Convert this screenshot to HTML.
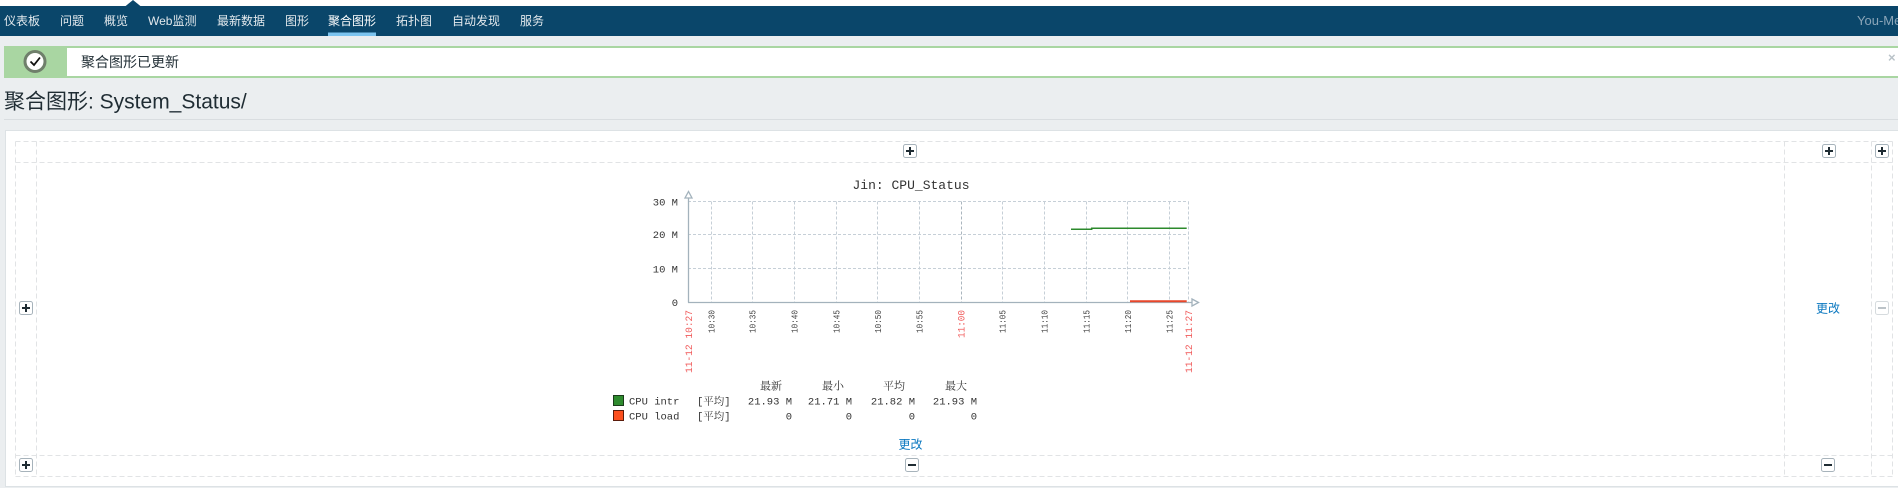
<!DOCTYPE html>
<html><head><meta charset="utf-8">
<style>
html,body{margin:0;padding:0;}
body{width:1898px;height:488px;overflow:hidden;background:#ebeef0;position:relative;font-family:"Liberation Sans","Noto Sans CJK SC",sans-serif;}
.abs{position:absolute;}
</style></head>
<body>
<div class="abs" style="left:0;top:0;width:1898px;height:6px;background:#fff;"></div>
<div class="abs" style="left:0;top:6px;width:1898px;height:30px;background:#0a466a;"></div>
<svg class="abs" style="left:0;top:0" width="1898" height="488" viewBox="0 0 1898 488" xmlns="http://www.w3.org/2000/svg">
  <!-- nav pointer -->
  <polygon points="133,0 125,6.5 141,6.5" fill="#0a466a"/>
  <!-- nav items -->
  <g font-family="Liberation Sans, Noto Sans CJK SC, sans-serif" font-size="12" fill="#e3e9ed">
    <text x="4" y="25">仪表板</text>
    <text x="60" y="25">问题</text>
    <text x="104" y="25">概览</text>
    <text x="148" y="25">Web监测</text>
    <text x="217" y="25">最新数据</text>
    <text x="285" y="25">图形</text>
    <text x="328" y="25" fill="#ffffff">聚合图形</text>
    <text x="396" y="25">拓扑图</text>
    <text x="452" y="25">自动发现</text>
    <text x="520" y="25">服务</text>
    <text x="1857" y="25" fill="#8ba5b8" font-size="13">You-Me</text>
  </g>
  <rect x="328" y="32.5" width="48" height="3.5" fill="#7cc4ef"/>

  <!-- message box -->
  <rect x="5" y="47" width="1900" height="30" fill="#fff" stroke="#a9d6a2" stroke-width="2"/>
  <rect x="4" y="46" width="63" height="32" fill="#a9d6a2"/>
  <circle cx="35" cy="61.5" r="10" fill="#fff" stroke="#6f7f6b" stroke-width="3"/>
  <path d="M30.5,61.5 L34,65 L40,57.5" fill="none" stroke="#111" stroke-width="1.8"/>
  <text x="81" y="67" font-family="Liberation Sans, Noto Sans CJK SC, sans-serif" font-size="14" fill="#1f2c33">聚合图形已更新</text>
  <text x="1888" y="62" font-family="Liberation Sans, sans-serif" font-size="13" fill="#b9c2c8" font-weight="bold">×</text>

  <!-- title -->
  <text x="4" y="108.5" font-family="Liberation Sans, Noto Sans CJK SC, sans-serif" font-size="21" fill="#1f2c33">聚合图形: System_Status/</text>
  <line x1="4" y1="119.5" x2="1898" y2="119.5" stroke="#d9dde0" stroke-width="1"/>

  <!-- panel -->
  <rect x="5.5" y="130.5" width="1900" height="356" fill="#fff" stroke="#dde2e5" stroke-width="1"/>

  <!-- layout dashed grid -->
  <g stroke="#e1e3e5" stroke-width="1" stroke-dasharray="5 3" fill="none">
    <line x1="15.5" y1="141.5" x2="1892.5" y2="141.5"/>
    <line x1="15.5" y1="162.5" x2="1892.5" y2="162.5"/>
    <line x1="15.5" y1="455.5" x2="1892.5" y2="455.5"/>
    <line x1="15.5" y1="476.5" x2="1892.5" y2="476.5"/>
    <line x1="15.5" y1="141.5" x2="15.5" y2="476.5"/>
    <line x1="36.5" y1="141.5" x2="36.5" y2="476.5"/>
    <line x1="1784.5" y1="141.5" x2="1784.5" y2="476.5"/>
    <line x1="1871.5" y1="141.5" x2="1871.5" y2="476.5"/>
    <line x1="1892.5" y1="141.5" x2="1892.5" y2="476.5"/>
  </g>

  <!-- buttons -->
  <g>
    <!-- plus buttons -->
    <g stroke="#a7b3bb" fill="#fff"><rect x="903.5" y="144.5" width="13" height="13" rx="2"/><rect x="1822.5" y="144.5" width="13" height="13" rx="2"/><rect x="1875.5" y="144.5" width="13" height="13" rx="2"/><rect x="19.5" y="301.5" width="13" height="13" rx="2"/><rect x="19.5" y="458.5" width="13" height="13" rx="2"/><rect x="905.5" y="458.5" width="13" height="13" rx="2"/><rect x="1821.5" y="458.5" width="13" height="13" rx="2"/></g>
    <rect x="1875.5" y="301.5" width="13" height="13" rx="2" fill="#fff" stroke="#d6dbde"/>
    <g stroke="#1f2c33" stroke-width="2">
      <line x1="906" y1="151" x2="914" y2="151"/><line x1="910" y1="147" x2="910" y2="155"/>
      <line x1="1825" y1="151" x2="1833" y2="151"/><line x1="1829" y1="147" x2="1829" y2="155"/>
      <line x1="1878" y1="151" x2="1886" y2="151"/><line x1="1882" y1="147" x2="1882" y2="155"/>
      <line x1="22" y1="308" x2="30" y2="308"/><line x1="26" y1="304" x2="26" y2="312"/>
      <line x1="22" y1="465" x2="30" y2="465"/><line x1="26" y1="461" x2="26" y2="469"/>
      <line x1="908" y1="465" x2="916" y2="465"/>
      <line x1="1824" y1="465" x2="1832" y2="465"/>
    </g>
    <line x1="1878" y1="308" x2="1886" y2="308" stroke="#bcc3c8" stroke-width="2"/>
  </g>
  <text x="1828" y="312.5" text-anchor="middle" font-family="Liberation Sans, Noto Sans CJK SC, sans-serif" font-size="12" fill="#0b78c0">更改</text>
  <text x="910.5" y="448.5" text-anchor="middle" font-family="Liberation Sans, Noto Sans CJK SC, sans-serif" font-size="12" fill="#0b78c0">更改</text>

  <!-- chart -->
  <text x="911" y="189" text-anchor="middle" font-family="Liberation Mono, monospace" font-size="13" fill="#333">Jin: CPU_Status</text>
  <g stroke="#c6cfd7" stroke-width="1" stroke-dasharray="3 2" fill="none">
    <line x1="688" y1="201.5" x2="1188.5" y2="201.5"/>
    <line x1="688" y1="234.5" x2="1188.5" y2="234.5"/>
    <line x1="688" y1="268.5" x2="1188.5" y2="268.5"/>
    <line x1="711.5" y1="201.5" x2="711.5" y2="302"/>
    <line x1="752.5" y1="201.5" x2="752.5" y2="302"/>
    <line x1="794.5" y1="201.5" x2="794.5" y2="302"/>
    <line x1="836.5" y1="201.5" x2="836.5" y2="302"/>
    <line x1="877.5" y1="201.5" x2="877.5" y2="302"/>
    <line x1="919.5" y1="201.5" x2="919.5" y2="302"/>
    <line x1="961.5" y1="201.5" x2="961.5" y2="302" stroke="#aab5be"/>
    <line x1="1002.5" y1="201.5" x2="1002.5" y2="302"/>
    <line x1="1044.5" y1="201.5" x2="1044.5" y2="302"/>
    <line x1="1086.5" y1="201.5" x2="1086.5" y2="302"/>
    <line x1="1127.5" y1="201.5" x2="1127.5" y2="302"/>
    <line x1="1169.5" y1="201.5" x2="1169.5" y2="302"/>
    <line x1="1188.5" y1="201.5" x2="1188.5" y2="302"/>
  </g>
  <!-- axes -->
  <g stroke="#a3b2bc" stroke-width="1.3" fill="#fff">
    <line x1="688.5" y1="196" x2="688.5" y2="302.5"/>
    <line x1="688" y1="302.5" x2="1193" y2="302.5"/>
    <polygon points="688.5,191.5 685,198 692,198"/>
    <polygon points="1198.5,302.5 1192,299 1192,306"/>
  </g>
  <!-- series -->
  <polyline points="1071,229.3 1091.7,229.3 1091.7,228.3 1186.7,228.3" fill="none" stroke="#2c8a2c" stroke-width="1.5"/>
  <line x1="1130" y1="301.3" x2="1186.7" y2="301.3" stroke="#e8472a" stroke-width="2"/>

  <!-- y labels -->
  <g font-family="Liberation Mono, monospace" font-size="10.5" fill="#333" text-anchor="end">
    <text x="678" y="205.5">30 M</text>
    <text x="678" y="238">20 M</text>
    <text x="678" y="272.5">10 M</text>
    <text x="678" y="306">0</text>
  </g>
  <!-- x labels -->
  <g font-family="Liberation Mono, monospace" font-size="9" fill="#444" text-anchor="end">
    <text transform="translate(714.5,310) rotate(-90)" textLength="23" lengthAdjust="spacingAndGlyphs">10:30</text>
    <text transform="translate(755.5,310) rotate(-90)" textLength="23" lengthAdjust="spacingAndGlyphs">10:35</text>
    <text transform="translate(797.5,310) rotate(-90)" textLength="23" lengthAdjust="spacingAndGlyphs">10:40</text>
    <text transform="translate(839.5,310) rotate(-90)" textLength="23" lengthAdjust="spacingAndGlyphs">10:45</text>
    <text transform="translate(881,310) rotate(-90)" textLength="23" lengthAdjust="spacingAndGlyphs">10:50</text>
    <text transform="translate(922.5,310) rotate(-90)" textLength="23" lengthAdjust="spacingAndGlyphs">10:55</text>
    <text transform="translate(1005.5,310) rotate(-90)" textLength="23" lengthAdjust="spacingAndGlyphs">11:05</text>
    <text transform="translate(1047.5,310) rotate(-90)" textLength="23" lengthAdjust="spacingAndGlyphs">11:10</text>
    <text transform="translate(1089.5,310) rotate(-90)" textLength="23" lengthAdjust="spacingAndGlyphs">11:15</text>
    <text transform="translate(1131,310) rotate(-90)" textLength="23" lengthAdjust="spacingAndGlyphs">11:20</text>
    <text transform="translate(1172.5,310) rotate(-90)" textLength="23" lengthAdjust="spacingAndGlyphs">11:25</text>
  </g>
  <g font-family="Liberation Mono, monospace" font-size="10.5" fill="#f05a5a" text-anchor="end">
    <text transform="translate(692,310) rotate(-90)" textLength="63" lengthAdjust="spacingAndGlyphs">11-12 10:27</text>
    <text transform="translate(964.5,310) rotate(-90)" textLength="28" lengthAdjust="spacingAndGlyphs">11:00</text>
    <text transform="translate(1192,310) rotate(-90)" textLength="63" lengthAdjust="spacingAndGlyphs">11-12 11:27</text>
  </g>

  <!-- legend -->
  <g font-family="Liberation Mono, Noto Serif CJK SC, serif" font-size="11" fill="#333" text-anchor="middle">
    <text x="771" y="389.5">最新</text>
    <text x="833" y="389.5">最小</text>
    <text x="894" y="389.5">平均</text>
    <text x="956" y="389.5">最大</text>
  </g>
  <rect x="613.5" y="395.5" width="10" height="10" fill="#2e8b2e" stroke="#1b3b1b"/>
  <rect x="613.5" y="410.5" width="10" height="10" fill="#fc4f1e" stroke="#5a1c0c"/>
  <g font-family="Liberation Mono, Noto Serif CJK SC, monospace" font-size="10.5" fill="#333">
    <text x="629" y="404.5">CPU intr</text>
    <text x="629" y="419.3">CPU load</text>
    <text x="697" y="404.5">[平均]</text>
    <text x="697" y="419.3">[平均]</text>
  </g>
  <g font-family="Liberation Mono, monospace" font-size="10.5" fill="#333" text-anchor="end">
    <text x="792" y="404.5">21.93 M</text>
    <text x="852" y="404.5">21.71 M</text>
    <text x="915" y="404.5">21.82 M</text>
    <text x="977" y="404.5">21.93 M</text>
    <text x="792" y="419.3">0</text>
    <text x="852" y="419.3">0</text>
    <text x="915" y="419.3">0</text>
    <text x="977" y="419.3">0</text>
  </g>
</svg>
</body></html>
